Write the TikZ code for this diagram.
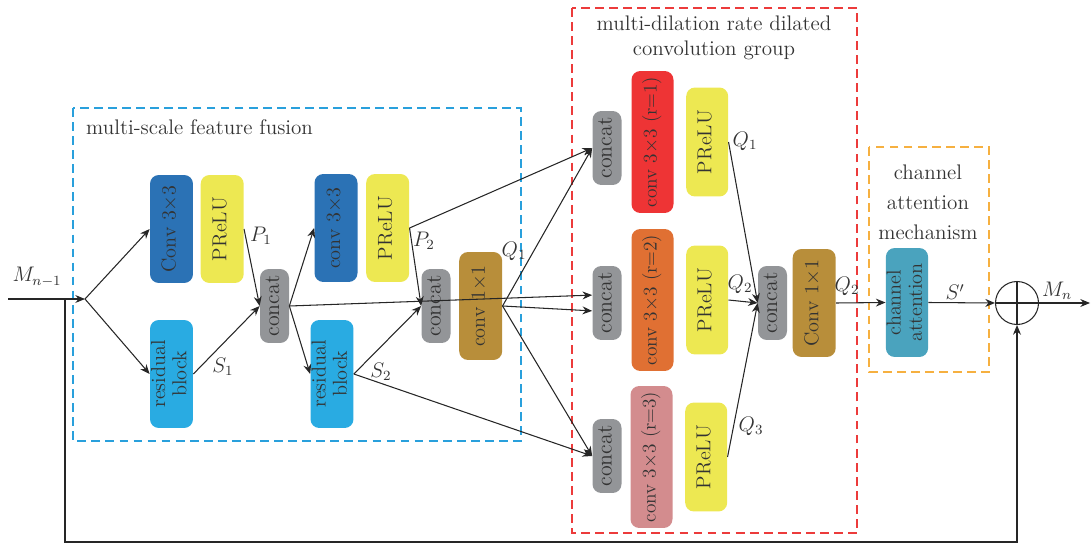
\RequirePackage{fix-cm}
\documentclass[tikz,border=0pt]{standalone}
\usepackage{amsmath}
\usepackage{tikz}
\usetikzlibrary{positioning, arrows.meta, calc}

\definecolor{ConvBlue}{RGB}{43,114,181}
\definecolor{ActYellow}{RGB}{237,232,82}
\definecolor{CatGray}{RGB}{147,149,152}
\definecolor{ResBlue}{RGB}{41,171,226}
\definecolor{MixBrown}{RGB}{184,142,58}
\definecolor{DilRed}{RGB}{238,52,53}
\definecolor{DilOrange}{RGB}{224,112,51}
\definecolor{DilPink}{RGB}{211,140,142}
\definecolor{AttTeal}{RGB}{74,163,190}
\definecolor{FuseLine}{RGB}{41,160,220}
\definecolor{DilLine}{RGB}{236,59,59}
\definecolor{AttLine}{RGB}{246,176,64}

\newcommand{\vtext}[1]{\rotatebox{90}{\begin{tabular}{@{}c@{}}#1\end{tabular}}}

\begin{document}
\begin{tikzpicture}[
    x=0.02cm, y=-0.02cm,
    every node/.style={font=\fontsize{11.5}{12}\selectfont, text=black!80},
    blk/.style={rectangle, rounded corners=5pt, inner sep=0pt,
                minimum width=0.86cm, minimum height=2.16cm},
    conv/.style={blk, fill=ConvBlue},
    act/.style={blk, fill=ActYellow},
    res/.style={blk, fill=ResBlue},
    mix/.style={blk, fill=MixBrown},
    cat/.style={blk, fill=CatGray, minimum width=0.58cm, minimum height=1.48cm,
                font=\fontsize{12.5}{13}\selectfont},
    dil/.style={blk, minimum width=0.84cm, minimum height=2.84cm,
                font=\fontsize{11}{12}\selectfont},
    lbl/.style={font=\fontsize{12}{14}\selectfont},
    group/.style={line width=0.7pt, dash pattern=on 5pt off 3pt},
    arrow/.style={line width=0.6pt, black!85, -{Stealth[length=5.5pt, width=4.5pt]}}
]
\useasboundingbox (0,0) rectangle (1092,544);

% group frames
\draw[group, FuseLine] (73,108) rectangle (521,441);
\draw[group, DilLine] (572,8) rectangle (857,533);
\draw[group, AttLine] (869,147) rectangle (989,372);
\node[lbl, anchor=west] (fusetitle) at (80,127) {multi-scale feature fusion};
\node[lbl, align=center] (diltitle) at (714,38) {multi-dilation rate dilated\\convolution group};
\node[lbl, align=center, font=\fontsize{12}{17}\selectfont] (atttitle) at (928,202) {channel\\attention\\mechanism};

% multi-scale feature fusion
\node[conv] (c1) at (171.5,229) {\vtext{Conv 3$\times$3}};
\node[act, right=0.14cm of c1] (p1) {\vtext{PReLU}};
\node[res] (r1) at (171.5,374) {\vtext{residual\\block}};
\node[cat] (cc1) at (274.5,306) {\vtext{concat}};
\node[conv] (c2) at (336,228) {\vtext{conv 3$\times$3}};
\node[act, right=0.16cm of c2] (p2) {\vtext{PReLU}};
\node[res] (r2) at (332,374) {\vtext{residual\\block}};
\node[cat] (cc2) at (436,306) {\vtext{concat}};
\node[mix, right=0.16cm of cc2] (k1) {\vtext{conv 1$\times$1}};

% dilated convolution group
\node[cat] (cd1) at (607,148) {\vtext{concat}};
\node[cat] (cd2) at (607,303) {\vtext{concat}};
\node[cat] (cd3) at (607,456) {\vtext{concat}};
\node[dil, fill=DilRed] (d1) at (652.5,142) {\vtext{conv 3$\times$3 (r=1)}};
\node[dil, fill=DilOrange] (d2) at (652.5,300) {\vtext{conv 3$\times$3 (r=2)}};
\node[dil, fill=DilPink] (d3) at (651.5,457) {\vtext{conv 3$\times$3 (r=3)}};
\node[act, minimum width=0.84cm, minimum height=2.18cm, right=0.24cm of d1] (q1) {\vtext{PReLU}};
\node[act, minimum width=0.84cm, minimum height=2.18cm, right=0.24cm of d2] (q2) {\vtext{PReLU}};
\node[act, minimum width=0.84cm, minimum height=2.18cm, right=0.24cm of d3] (q3) {\vtext{PReLU}};
\node[cat] (ccf) at (772.5,303) {\vtext{concat}};
\node[mix, right=0.1cm of ccf] (kf) {\vtext{Conv 1$\times$1}};

% channel attention and sum
\node[blk, fill=AttTeal, minimum width=0.84cm, minimum height=2.18cm] (ca) at (907,302.5) {\vtext{channel\\attention}};
\node[circle, draw=black!85, line width=0.6pt, minimum size=0.86cm, inner sep=0pt] (sum) at (1017,303) {};
\draw[line width=0.6pt, black!85] (sum.north) -- (sum.south);
\draw[line width=0.6pt, black!85] (sum.west) -- (sum.east);

\coordinate (in) at (8,299);
\coordinate (split) at (85,299);
\coordinate (fb) at (65,299);
\coordinate (low) at (65,542);
\coordinate (out) at (1090,303);

% labels
\node[lbl] (lmin) at (37,277) {$M_{n-1}$};
\node[lbl] (lp1) at (261,236) {$P_1$};
\node[lbl] (ls1) at (223,367) {$S_1$};
\node[lbl] (lp2) at (424,241) {$P_2$};
\node[lbl] (lq1) at (514,251) {$Q_1$};
\node[lbl] (ls2) at (381,372) {$S_2$};
\node[lbl] (ldq1) at (745,141) {$Q_1$};
\node[lbl] (ldq2) at (740,284) {$Q_2$};
\node[lbl] (ldq3) at (751,426) {$Q_3$};
\node[lbl] (lq2) at (847,286) {$Q_2$};
\node[lbl] (lsp) at (955,292) {$S'$};
\node[lbl] (lmn) at (1057,291) {$M_n$};

% connections
\draw[arrow] (in) -- (split);
\draw[arrow] (split) -- (c1.west);
\draw[arrow] (split) -- (r1.west);
\draw[arrow] (p1.east) -- (cc1.west);
\draw[arrow] (r1.east) -- (cc1.west);
\draw[arrow] (cc1.east) -- (c2.west);
\draw[arrow] (cc1.east) -- (r2.west);
\draw[arrow] (cc1.east) -- ([yshift=4.5pt]cd2.west);
\draw[arrow] (p2.east) -- (cc2.west);
\draw[arrow] (p2.east) -- (cd1.west);
\draw[arrow] (r2.east) -- (cc2.west);
\draw[arrow] (r2.east) -- (cd3.west);
\draw[arrow] (k1.east) -- (cd1.west);
\draw[arrow] (k1.east) -- ([yshift=-4.5pt]cd2.west);
\draw[arrow] (k1.east) -- (cd3.west);
\draw[arrow] (q1.east) -- (ccf.west);
\draw[arrow] (q2.east) -- (ccf.west);
\draw[arrow] (q3.east) -- (ccf.west);
\draw[arrow] (kf.east) -- (ca.west);
\draw[arrow] (ca.east) -- (sum.west);
\draw[arrow] (sum.east) -- (out);
\draw[arrow] (fb) -- (low) -| (sum.south);
\end{tikzpicture}
\end{document}
